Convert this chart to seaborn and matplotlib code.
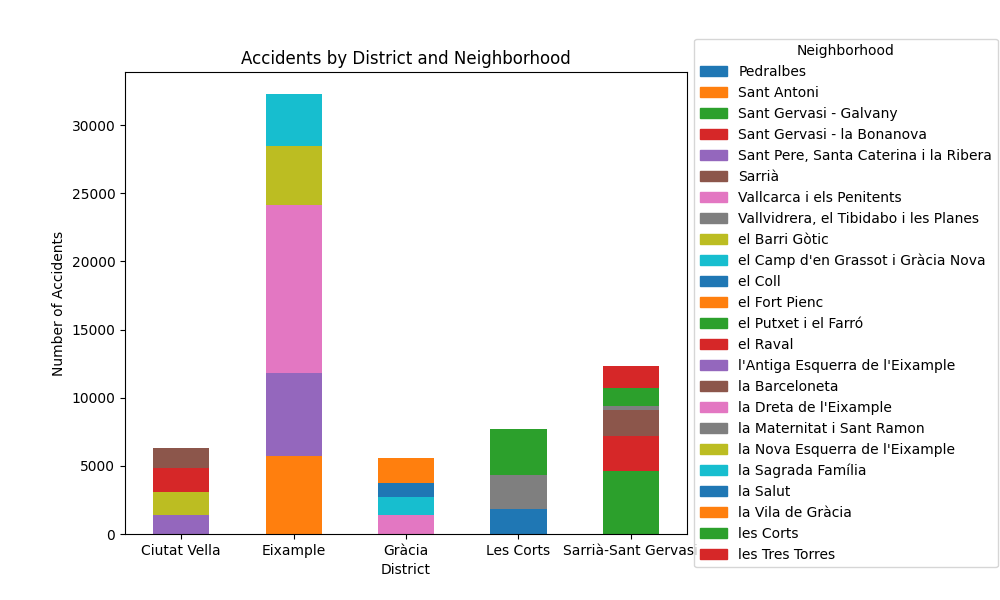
from matplotlib import pyplot as plt
from matplotlib.patches import Patch
import pandas as pd
import seaborn as sns

### DATA ###

DISTRICTS = ["Ciutat Vella", "Eixample", "Gràcia", "Les Corts", "Sarrià-Sant Gervasi"]

neighborhoods = [
    "Pedralbes", "Sant Antoni", "Sant Gervasi - Galvany", "Sant Gervasi - la Bonanova",
    "Sant Pere, Santa Caterina i la Ribera", "Sarrià", "Vallcarca i els Penitents",
    "Vallvidrera, el Tibidabo i les Planes", "el Barri Gòtic",
    "el Camp d'en Grassot i Gràcia Nova", "el Coll", "el Fort Pienc",
    "el Putxet i el Farró", "el Raval", "l'Antiga Esquerra de l'Eixample",
    "la Barceloneta", "la Dreta de l'Eixample", "la Maternitat i Sant Ramon",
    "la Nova Esquerra de l'Eixample", "la Sagrada Família", "la Salut",
    "la Vila de Gràcia", "les Corts", "les Tres Torres",
]
district_of = [
    "Les Corts", "Eixample", "Sarrià-Sant Gervasi", "Sarrià-Sant Gervasi",
    "Ciutat Vella", "Sarrià-Sant Gervasi", "Gràcia",
    "Sarrià-Sant Gervasi", "Ciutat Vella",
    "Gràcia", "Gràcia", "Eixample",
    "Sarrià-Sant Gervasi", "Ciutat Vella", "Eixample",
    "Ciutat Vella", "Eixample", "Les Corts",
    "Eixample", "Eixample", "Gràcia",
    "Gràcia", "Les Corts", "Sarrià-Sant Gervasi",
]
# accidents
accidents = [
    1834, 2860, 4621, 2567,
    1394, 1907, 1394,
    316, 1687,
    1320, 410, 2861,
    1298, 1760, 6088,
    1467, 12323, 2494,
    4328, 3814, 617,
    1834, 3374, 1614,
]

df = pd.DataFrame({"District": district_of, "Neighborhood": neighborhoods, "Accidents": accidents})
df["District"] = pd.Categorical(df["District"], categories=DISTRICTS, ordered=True)
df = df.sort_values("District")

tab10 = sns.color_palette("tab10", 10)
palette = {n: tab10[i % 10] for i, n in enumerate(neighborhoods)}

### PLOT ###

fig, ax = plt.subplots(figsize=(10, 6), dpi=100)
fig.subplots_adjust(left=0.125, right=0.687, bottom=0.11, top=0.88)

# seaborn stacks the last hue level at the bottom, so reverse the order
sns.histplot(
    data=df, x="District", hue="Neighborhood", weights="Accidents",
    hue_order=neighborhoods[::-1], palette=palette, multiple="stack",
    discrete=True, shrink=0.5, linewidth=0, alpha=1, legend=False, ax=ax,
)

totals = df.groupby("District", observed=True)["Accidents"].sum()
ax.set_xlim(-0.5, len(DISTRICTS) - 0.5)
ax.set_ylim(0, totals.max() * 1.05)
ax.set_xticks(range(len(DISTRICTS)))
ax.set_xticklabels(DISTRICTS, rotation=0)
ax.set_xlabel("District")
ax.set_ylabel("Number of Accidents")
ax.set_title("Accidents by District and Neighborhood")

handles = [Patch(color=palette[n], label=n) for n in neighborhoods]
ax.legend(handles=handles, title="Neighborhood", loc="center left", bbox_to_anchor=(1, 0.5))

fig.savefig("out.png")
